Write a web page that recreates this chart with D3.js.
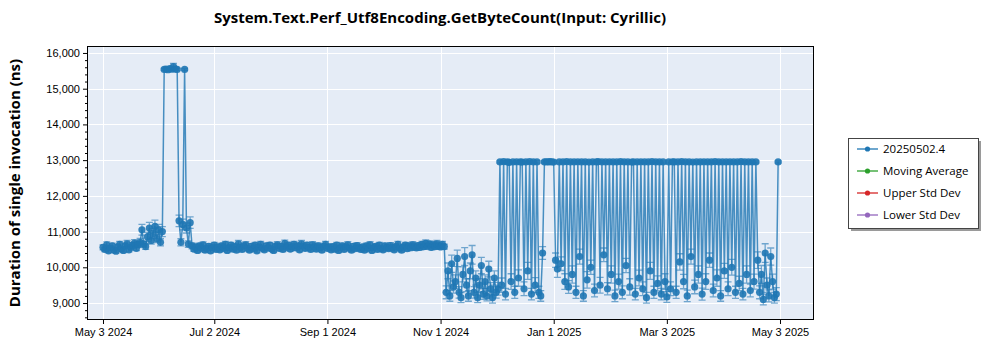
<!DOCTYPE html>
<html>
<head>
<meta charset="utf-8">
<script src="https://cdn.jsdelivr.net/npm/d3@7/dist/d3.min.js"></script>
<style>
  body { margin: 0; background: #fff; }
  svg { font-family: "Open Sans", "Noto Sans", sans-serif; }
</style>
</head>
<body>
<svg id="chart" width="1000" height="350"></svg>
<script>
const chartTitle = "System.Text.Perf_Utf8Encoding.GetByteCount(Input: Cyrillic)";
const yAxisTitle = "Duration of single invocation (ns)";
const firstRunDay = "2024-05-03";   // one run per day from here on

// mean duration (ns) of each daily run
const durations = [
  // May 3 - May 22
  10560, 10500, 10630, 10460, 10540, 10600, 10480, 10450, 10570, 10640, 10510, 10470, 10600, 10660, 10490, 10560, 10620, 10680, 10530, 10640,
  // May 23 - Jun 4
  10700, 11050, 10650, 10580, 10850, 11100, 10750, 10950, 11150, 10800, 11050, 10700, 11000,
  // spike Jun 5 - Jun 12
  15540, 15550, 15530, 15560, 15545, 15620, 15550, 15540,
  // Jun 13 - Jun 20
  11300, 10700, 11200, 15540, 11100, 10650, 11250, 10600,
  // Jun 21 - Nov 2
  10510, 10570, 10470, 10600, 10530, 10630, 10480, 10530, 10590, 10460, 10550, 10620, 10500, 10570, 10490,
  10600, 10530, 10640, 10470, 10550, 10620, 10510, 10580, 10480, 10660, 10560, 10500, 10600, 10630, 10530,
  10480, 10590, 10520, 10620, 10460, 10570, 10640, 10530, 10490, 10600, 10540, 10620, 10510, 10470, 10590,
  10630, 10530, 10590, 10500, 10670, 10560, 10620, 10510, 10580, 10640, 10540, 10600, 10490, 10660, 10590,
  10530, 10620, 10560, 10500, 10630, 10570, 10510, 10600, 10550, 10480, 10590, 10640, 10530, 10570, 10490,
  10580, 10510, 10620, 10470, 10550, 10600, 10500, 10570, 10630, 10530, 10480, 10590, 10520, 10610, 10550,
  10500, 10570, 10480, 10600, 10530, 10630, 10470, 10550, 10590, 10500, 10620, 10530, 10490, 10600, 10560,
  10520, 10610, 10550, 10490, 10580, 10640, 10530, 10480, 10570, 10620, 10520, 10600, 10550, 10630, 10580,
  10540, 10610, 10560, 10640, 10580, 10670, 10590, 10650, 10560, 10630, 10580, 10660, 10600, 10570, 10640,
  // Nov 3 - Dec 1
  10580, 9300, 9900, 9200, 10100, 9450, 9600, 10250, 9300, 9150, 9800, 10300, 9500, 9200, 9900,
  10350, 9300, 9700, 9150, 9500, 10050, 9250, 9600, 9200, 9950, 9400, 9150, 9700, 9300,
  // Dec 2 - Apr 20
  9400, 12950, 9500, 12960, 9250, 12950, 12940, 9600, 12950, 9300, 12955, 9700, 12950, 12945, 9400,
  12950, 9900, 12960, 9250, 12950, 9500, 12950, 9300, 9200, 10400, 12950, 12955, 12950, 12960, 12950,
  12945, 10200, 9950, 12950, 10100, 12950, 9600, 12960, 9450, 12950, 9800, 12950, 9300, 12955, 10300,
  12950, 9200, 12950, 9650, 12945, 10000, 12950, 9350, 12950, 12960, 9500, 12950, 10350, 12950, 9400,
  12955, 9800, 12950, 9200, 12950, 9600, 12960, 9300, 12950, 10050, 12950, 9450, 12945, 12950, 9250,
  12950, 9700, 12955, 9400, 12950, 9150, 12950, 9900, 12960, 9300, 12950, 9550, 12950, 9250, 12950,
  9600, 9170, 12950, 9400, 12955, 12950, 9300, 12950, 10150, 12960, 9600, 12950, 9200, 12950, 10300,
  12945, 9450, 12950, 9800, 12950, 9250, 12955, 9600, 12950, 10200, 12950, 9350, 12960, 9700, 12950,
  9200, 12950, 9900, 12950, 9400, 12955, 10000, 12950, 9300, 12950, 9550, 12960, 9250, 12950, 9800,
  12950, 9350, 12950, 9600, 12950,
  // Apr 21 - May 2
  10200, 9300, 9800, 9100, 10400, 9500, 9200, 10300, 9600, 9150, 9250, 12950
];

// standard deviation (ns) of each daily run
const stdDevs = [
  70, 60, 80, 55, 65, 75, 60, 50, 70, 85, 65, 60, 75, 90, 60, 70, 80, 95, 65, 85,
  110, 150, 90, 80, 130, 160, 100, 140, 170, 110, 150, 100, 140,
  30, 25, 35, 30, 40, 90, 35, 30,
  160, 100, 150, 30, 140, 90, 160, 80,
  60, 70, 55, 75, 65, 80, 60, 70, 75, 55, 65, 80, 60, 70, 60,
  75, 65, 85, 55, 65, 80, 60, 75, 55, 90, 70, 60, 75, 85, 65,
  55, 75, 60, 80, 55, 70, 85, 65, 60, 75, 65, 80, 60, 55, 70,
  85, 65, 75, 60, 90, 70, 80, 60, 75, 85, 65, 75, 60, 90, 75,
  65, 80, 70, 60, 85, 75, 60, 80, 65, 55, 75, 85, 65, 70, 60,
  75, 60, 80, 55, 65, 75, 60, 70, 85, 65, 55, 75, 60, 80, 65,
  60, 70, 55, 75, 65, 85, 55, 65, 75, 60, 80, 65, 60, 75, 70,
  60, 80, 65, 60, 75, 85, 65, 55, 70, 80, 60, 75, 65, 85, 75,
  65, 80, 70, 85, 75, 95, 80, 90, 70, 85, 75, 90, 80, 70, 85,
  70, 180, 220, 150, 240, 170, 190, 230, 160, 140, 210, 250, 180, 150, 220,
  260, 160, 200, 140, 180, 230, 150, 190, 140, 220, 170, 150, 200, 160,
  180, 30, 200, 35, 160, 30, 25, 220, 30, 170, 35, 230, 30, 30, 190,
  35, 240, 30, 160, 30, 210, 35, 170, 150, 180, 30, 35, 30, 25, 30,
  35, 200, 230, 30, 190, 30, 220, 35, 180, 30, 240, 30, 170, 35, 210,
  30, 150, 30, 230, 25, 200, 30, 180, 30, 35, 220, 30, 190, 30, 170,
  35, 240, 30, 160, 30, 210, 35, 180, 30, 200, 30, 230, 25, 30, 160,
  30, 220, 35, 190, 30, 150, 30, 240, 35, 170, 30, 210, 30, 160, 30,
  220, 150, 30, 190, 35, 30, 170, 30, 230, 35, 200, 30, 160, 30, 210,
  25, 190, 30, 240, 30, 170, 35, 220, 30, 200, 30, 180, 35, 230, 30,
  150, 30, 210, 30, 190, 35, 220, 30, 170, 30, 200, 35, 160, 30, 240,
  30, 180, 30, 210, 30,
  230, 180, 250, 150, 260, 200, 170, 240, 210, 150, 180, 30
];

const xTickDates = ["2024-05-03", "2024-07-02", "2024-09-01", "2024-11-01", "2025-01-01", "2025-03-03", "2025-05-03"];
const yTickValues = [9000, 10000, 11000, 12000, 13000, 14000, 15000, 16000];
const legendLabels = ["20250502.4", "Moving Average", "Upper Std Dev", "Lower Std Dev"];
const legendColors = ["#1f77b4", "#2ca02c", "#d62728", "#9467bd"];

const plot = { left: 87, right: 814, top: 46, bottom: 320 };
const seriesColor = "#1f77b4";

const svg = d3.select("#chart");
const parse = d3.utcParse("%Y-%m-%d");
const start = parse(firstRunDay);

const points = durations.map((v, i) => ({
  date: d3.utcDay.offset(start, i),
  value: v,
  sd: stdDevs[i]
}));

const x = d3.scaleUtc()
  .domain([new Date(Date.UTC(2024, 3, 24, 9)), new Date(Date.UTC(2025, 4, 21, 8))])
  .range([plot.left, plot.right]);

const y = d3.scaleLinear()
  .domain([8525, 16195])
  .range([plot.bottom, plot.top]);

// plot background
svg.append("rect")
  .attr("x", plot.left).attr("y", plot.top)
  .attr("width", plot.right - plot.left).attr("height", plot.bottom - plot.top)
  .attr("fill", "#e5ecf6");

svg.append("clipPath").attr("id", "plot-clip")
  .append("rect")
  .attr("x", plot.left).attr("y", plot.top)
  .attr("width", plot.right - plot.left).attr("height", plot.bottom - plot.top);

// grid
const grid = svg.append("g").attr("stroke", "#fff").attr("stroke-width", 1);
grid.selectAll(".gx")
  .data(xTickDates.map(parse))
  .join("line")
  .attr("x1", d => Math.round(x(d)) + 0.5).attr("x2", d => Math.round(x(d)) + 0.5)
  .attr("y1", plot.top).attr("y2", plot.bottom);
grid.selectAll(".gy")
  .data(yTickValues)
  .join("line")
  .attr("y1", d => Math.round(y(d)) + 0.5).attr("y2", d => Math.round(y(d)) + 0.5)
  .attr("x1", plot.left).attr("x2", plot.right);

// series
const series = svg.append("g").attr("clip-path", "url(#plot-clip)");

series.append("path")
  .datum(points)
  .attr("fill", "none")
  .attr("stroke", seriesColor)
  .attr("stroke-width", 1.5)
  .attr("stroke-opacity", 0.8)
  .attr("d", d3.line().x(d => x(d.date)).y(d => y(d.value)));

const bars = series.append("g")
  .attr("stroke", seriesColor)
  .attr("stroke-width", 1.3)
  .attr("stroke-opacity", 0.6);

bars.selectAll(".eb")
  .data(points)
  .join("path")
  .attr("fill", "none")
  .attr("d", d => {
    const cx = x(d.date), y0 = y(d.value - d.sd), y1 = y(d.value + d.sd);
    return `M${cx},${y0}V${y1}M${cx - 3.5},${y0}H${cx + 3.5}M${cx - 3.5},${y1}H${cx + 3.5}`;
  });

series.append("g")
  .selectAll("circle")
  .data(points)
  .join("circle")
  .attr("cx", d => x(d.date))
  .attr("cy", d => y(d.value))
  .attr("r", 3.6)
  .attr("fill", seriesColor)
  .attr("fill-opacity", 0.9);

// frame
svg.append("rect")
  .attr("x", plot.left + 0.5).attr("y", plot.top + 0.5)
  .attr("width", plot.right - plot.left - 1).attr("height", plot.bottom - plot.top - 1)
  .attr("fill", "none")
  .attr("stroke", "#000")
  .attr("stroke-width", 1);

// axes
const yAxis = svg.append("g")
  .attr("transform", `translate(${plot.left},0)`)
  .call(d3.axisLeft(y).tickValues(yTickValues).tickFormat(d3.format(",")).tickSize(4).tickPadding(3));
yAxis.select(".domain").remove();
yAxis.selectAll("text").attr("font-size", 11).attr("fill", "#000");

const yMinor = svg.append("g")
  .attr("transform", `translate(${plot.left},0)`)
  .call(d3.axisLeft(y).tickValues(d3.range(8600, 16200, 200).filter(v => v % 1000 !== 0)).tickFormat("").tickSize(2));
yMinor.select(".domain").remove();

const xAxis = svg.append("g")
  .attr("transform", `translate(0,${plot.bottom})`)
  .call(d3.axisBottom(x).tickValues(xTickDates.map(parse)).tickFormat(d3.utcFormat("%b %-d %Y")).tickSize(4).tickPadding(4));
xAxis.select(".domain").remove();
xAxis.selectAll("text").attr("font-size", 11).attr("fill", "#000");

// titles
svg.append("text")
  .attr("x", 440).attr("y", 23)
  .attr("text-anchor", "middle")
  .attr("font-size", 15)
  .attr("font-weight", "bold")
  .text(chartTitle);

svg.append("text")
  .attr("transform", `translate(20,${(plot.top + plot.bottom) / 2}) rotate(-90)`)
  .attr("text-anchor", "middle")
  .attr("font-size", 15)
  .attr("font-weight", "bold")
  .text(yAxisTitle);

// legend
const legend = svg.append("g").attr("transform", "translate(848,138)");
legend.append("rect")
  .attr("x", 3).attr("y", 3).attr("width", 130).attr("height", 90)
  .attr("fill", "#9a9a9a");
legend.append("rect")
  .attr("x", 0.5).attr("y", 0.5).attr("width", 130).attr("height", 90)
  .attr("fill", "#fff").attr("stroke", "#444");

const item = legend.selectAll(".item")
  .data(legendLabels)
  .join("g")
  .attr("transform", (d, i) => `translate(0,${11 + i * 22})`);
item.append("line")
  .attr("x1", 9).attr("x2", 30)
  .attr("stroke", (d, i) => legendColors[i])
  .attr("stroke-width", 1.3);
item.append("circle")
  .attr("cx", 19.5).attr("r", 2.6)
  .attr("fill", (d, i) => legendColors[i]);
item.append("text")
  .attr("x", 35).attr("dy", "0.35em")
  .attr("font-size", 11.5)
  .text(d => d);
</script>
</body>
</html>
